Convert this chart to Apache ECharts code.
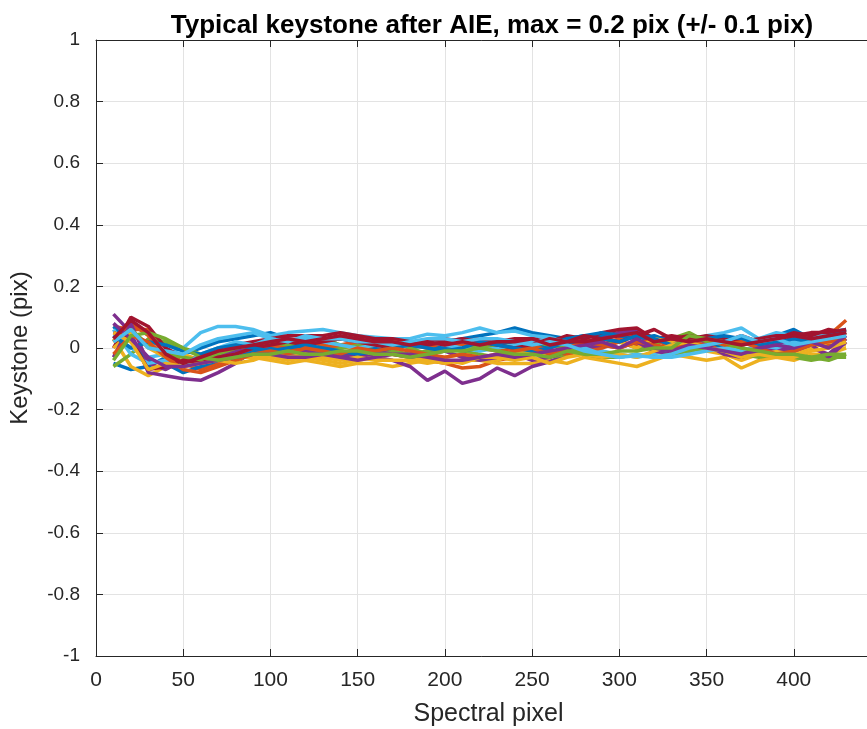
<!DOCTYPE html>
<html><head><meta charset="utf-8">
<script src="https://cdn.jsdelivr.net/npm/echarts@6/dist/echarts.min.js"></script>
<style>html,body{margin:0;padding:0;background:#fff}#c{width:867px;height:729px}</style>
</head><body><div id="c"></div>
<script>
var xs = [10,20,30,40,50,60,70,80,90,100,110,120,130,140,150,160,170,180,190,200,210,220,230,240,250,260,270,280,290,300,310,320,330,340,350,360,370,380,390,400,410,420,430];
var xTicks = [0,50,100,150,200,250,300,350,400,450];
var yTicks = [-1,-0.8,-0.6,-0.4,-0.2,0,0.2,0.4,0.6,0.8,1];
var colors = ['#0072BD','#D95319','#EDB120','#7E2F8E','#77AC30','#4DBEEE','#A2142F'];
var line1 = [-0.05,-0.07,-0.06,-0.03,-0.02,0.0,0.02,0.03,0.04,0.05, 0.03,0.02,0.02,0.03,0.02,0.01,0.02,0.0,0.01,0.02, 0.03,0.04,0.05,0.065,0.05,0.04,0.03,0.04,0.04,0.05, 0.05,0.03,0.02,0.03,0.02,0.03,0.01,0.02,0.04,0.06, 0.03,0.05,0.06];
var line2 = [0.07,0.06,0.06,0.0,-0.05,-0.07,-0.05,-0.03,-0.01,0.0, 0.01,0.02,0.01,0.0,0.01,-0.01,-0.02,-0.03,-0.04,-0.05, -0.065,-0.06,-0.04,-0.03,-0.02,0.0,0.02,0.03,0.01,0.03, 0.04,0.02,0.03,0.01,0.0,0.02,0.0,-0.01,0.0,0.01, 0.03,0.04,0.09];
var line3 = [0.03,-0.06,-0.09,-0.06,-0.04,-0.03,-0.02,-0.03,-0.03,-0.04, -0.05,-0.04,-0.05,-0.06,-0.05,-0.05,-0.06,-0.05,-0.04,-0.05, -0.04,-0.04,-0.05,-0.05,-0.05,-0.04,-0.05,-0.03,-0.04,-0.05, -0.06,-0.04,-0.02,-0.03,-0.04,-0.03,-0.065,-0.04,-0.03,-0.04, -0.02,-0.02,0.0];
var line4 = [0.11,0.05,-0.08,-0.09,-0.1,-0.105,-0.08,-0.05,-0.01,-0.015, -0.02,-0.02,-0.03,-0.02,-0.02,-0.03,-0.04,-0.06,-0.105,-0.075, -0.115,-0.1,-0.065,-0.09,-0.06,-0.045,-0.02,0.0,0.03,0.05, 0.06,-0.015,0.02,-0.015,0.02,0.0,-0.02,-0.01,0.01,0.02, 0.0,-0.02,0.03];
var line5 = [-0.06,-0.02,0.03,0.02,0.0,-0.02,-0.03,-0.01,-0.02,-0.01, 0.0,0.01,-0.01,0.0,0.01,0.0,-0.01,-0.02,-0.01,0.0, -0.01,-0.02,-0.03,-0.02,-0.01,-0.03,-0.02,0.0,0.01,0.02, 0.0,0.01,0.03,0.05,0.02,0.01,0.0,-0.02,-0.01,-0.03, -0.04,-0.03,-0.03];
var line6 = [0.04,0.0,-0.03,-0.02,0.0,0.05,0.07,0.07,0.06,0.04, 0.05,0.055,0.06,0.05,0.04,0.035,0.03,0.03,0.045,0.04, 0.05,0.065,0.05,0.055,0.04,0.035,0.02,0.01,-0.01,-0.02, -0.03,-0.02,0.0,0.02,0.04,0.05,0.065,0.03,0.05,0.04, 0.03,0.05,0.06];
var line7 = [0.0,0.1,0.07,0.0,-0.03,-0.04,-0.02,0.01,0.02,0.03, 0.04,0.04,0.04,0.05,0.04,0.03,0.03,0.02,0.02,0.03, 0.02,0.03,0.02,0.03,0.03,0.02,0.04,0.03,0.05,0.06, 0.065,0.03,0.04,0.03,0.04,0.03,0.02,0.03,0.04,0.04, 0.05,0.05,0.06];
var line8 = [0.07,0.02,-0.04,-0.05,-0.08,-0.06,-0.04,-0.02,-0.01,0.0, 0.01,0.0,-0.01,-0.02,-0.01,0.0,0.01,0.02,0.01,0.0, -0.01,0.0,0.01,0.02,0.0,0.01,0.03,0.04,0.05,0.04, 0.03,0.04,0.02,0.0,0.01,0.0,-0.02,0.0,0.01,0.0, 0.02,0.03,0.04];
var line9 = [0.02,0.08,0.04,-0.02,-0.06,-0.05,-0.03,-0.02,0.0,0.01, 0.0,-0.01,0.0,0.01,0.02,0.01,0.02,0.01,0.0,0.02, 0.01,0.0,-0.01,0.0,0.01,-0.01,-0.02,-0.01,0.0,0.02, 0.01,0.03,0.0,0.02,0.01,-0.01,-0.03,-0.02,-0.01,0.0, 0.02,0.01,0.05];
var line10 = [0.0,0.05,0.0,-0.03,-0.02,-0.04,-0.03,-0.04,-0.02,-0.03, -0.04,-0.03,-0.04,-0.05,-0.04,-0.03,-0.02,-0.03,-0.04,-0.03, -0.02,-0.03,-0.04,-0.02,-0.01,-0.02,0.01,0.0,0.03,0.02, 0.0,0.03,0.02,0.0,-0.01,-0.02,-0.04,-0.02,-0.01,-0.02, 0.0,0.02,0.01];
var line11 = [-0.03,0.08,-0.05,-0.07,-0.04,-0.03,-0.02,-0.01,0.0,-0.01, -0.02,-0.01,-0.02,-0.03,-0.02,-0.01,-0.02,-0.03,-0.02,-0.01, -0.03,-0.04,-0.03,-0.02,-0.04,-0.03,-0.01,0.0,0.01,0.0, 0.02,-0.01,-0.02,0.0,0.01,-0.02,-0.03,-0.01,0.0,-0.01, 0.01,-0.03,0.02];
var line12 = [0.02,0.06,0.01,-0.02,-0.03,-0.04,-0.02,0.0,0.01,0.02, 0.01,0.02,0.03,0.01,0.0,0.01,0.02,0.0,-0.02,-0.01, 0.0,0.01,0.0,0.01,0.02,0.01,0.0,-0.02,-0.03,-0.03, -0.02,-0.03,-0.02,-0.01,0.0,-0.01,-0.02,-0.03,-0.02,-0.02, -0.03,-0.02,-0.02];
var line13 = [0.06,-0.02,-0.05,-0.04,-0.06,-0.02,0.0,0.02,0.01,0.03, 0.02,0.03,0.02,0.01,0.0,0.01,0.0,0.01,0.02,0.01, 0.0,-0.01,0.0,0.01,0.02,0.03,0.02,0.0,-0.02,-0.03, -0.02,-0.03,-0.03,-0.02,-0.01,0.0,-0.01,0.01,0.0,0.02, 0.01,0.03,0.04];
var line14 = [0.05,0.03,-0.07,-0.06,-0.04,-0.05,-0.03,-0.02,0.0,0.01, 0.02,0.01,0.02,0.03,0.02,0.01,0.0,0.02,0.01,0.02, 0.03,0.02,0.01,0.0,0.01,0.03,0.02,0.04,0.03,0.02, 0.04,0.06,0.03,0.04,0.03,0.02,0.04,0.02,0.03,0.05, 0.04,0.06,0.05];
var line15 = [0.04,0.0,0.02,0.01,-0.01,-0.02,0.0,0.01,0.0,-0.01, 0.0,0.01,0.0,-0.01,-0.02,-0.01,0.0,0.01,0.0,-0.01, 0.0,0.02,0.01,0.0,-0.01,0.0,0.02,0.01,0.03,0.02, 0.04,0.03,0.01,0.02,0.03,0.04,0.03,0.01,0.02,0.03, 0.02,0.04,0.05];
var line16 = [-0.02,0.04,0.02,-0.03,-0.07,-0.08,-0.06,-0.04,-0.02,-0.01, -0.02,0.0,-0.01,-0.02,0.0,-0.01,0.0,-0.01,-0.02,-0.03, -0.02,-0.03,-0.02,-0.01,0.0,-0.02,0.0,0.02,0.01,0.0, 0.02,0.01,0.0,0.02,0.03,0.01,0.02,0.0,-0.02,-0.01, 0.01,0.02,0.03];
var line17 = [0.05,0.02,-0.07,-0.05,-0.06,-0.05,-0.04,-0.05,-0.04,-0.02, -0.03,-0.02,-0.03,-0.04,-0.03,-0.04,-0.04,-0.04,-0.05,-0.04, -0.05,-0.03,-0.03,-0.04,-0.03,-0.05,-0.03,-0.02,-0.03,-0.02, -0.03,-0.01,0.01,0.02,0.0,-0.01,-0.03,-0.02,-0.03,-0.03, -0.01,0.0,0.02];
var line18 = [0.08,0.03,-0.03,-0.06,-0.06,-0.05,-0.04,-0.03,-0.02,-0.02, -0.03,-0.03,-0.02,-0.03,-0.04,-0.03,-0.02,-0.02,-0.03,-0.04, -0.04,-0.03,-0.02,-0.03,-0.02,-0.01,0.0,0.01,0.02,0.0, 0.03,0.0,-0.01,0.01,0.0,-0.01,-0.02,0.0,0.01,0.0, 0.02,0.0,0.04];
var line19 = [-0.04,0.04,0.05,0.03,0.0,-0.03,-0.04,-0.03,-0.02,-0.02, -0.01,-0.02,-0.02,-0.01,-0.01,-0.02,-0.02,-0.03,-0.02,-0.01, -0.01,0.0,-0.01,-0.02,-0.02,-0.03,-0.01,-0.02,-0.02,-0.01, -0.01,0.0,0.0,0.04,0.03,0.02,0.0,-0.01,-0.02,-0.02, -0.03,-0.04,-0.02];
var line20 = [0.02,0.06,0.0,-0.01,-0.02,0.01,0.03,0.04,0.05,0.03, 0.02,0.04,0.03,0.03,0.02,0.02,0.01,0.02,0.03,0.03, 0.02,0.03,0.03,0.02,0.01,0.02,0.01,-0.01,-0.02,-0.03, -0.025,-0.03,-0.02,0.0,0.01,0.02,0.04,0.02,0.03,0.01, 0.02,0.03,0.04];
var line21 = [0.03,0.09,0.05,-0.02,-0.05,-0.03,-0.01,0.0,0.01,0.02, 0.03,0.02,0.03,0.04,0.03,0.02,0.02,0.01,0.02,0.01, 0.02,0.01,0.02,0.02,0.03,0.01,0.02,0.02,0.03,0.04, 0.05,0.02,0.03,0.02,0.03,0.02,0.01,0.02,0.03,0.04, 0.03,0.04,0.05];
var lines = [line1,line2,line3,line4,line5,line6,line7,line8,line9,line10,line11,line12,line13,line14,line15,line16,line17,line18,line19,line20,line21];

var FONT = "'Liberation Sans', Arial, Helvetica, sans-serif";
var chart = echarts.init(document.getElementById('c'), null, {renderer:'canvas'});
var series = lines.map(function(v, i){
  return {
    type:'line', xAxisIndex:0, yAxisIndex:0,
    data: xs.map(function(x, j){ return [x, v[j]]; }),
    showSymbol:false, symbol:'none', animation:false,
    lineStyle:{color:colors[i % colors.length], width:3.5},
    z: 3 + i
  };
});
chart.setOption({
  animation:false,
  backgroundColor:'#ffffff',
  title:{
    text:'Typical keystone after AIE, max = 0.2 pix (+/- 0.1 pix)',
    left: 487, textAlign:'center', top: 8,
    textStyle:{fontFamily:FONT, fontWeight:'bold', fontSize:26, color:'#000'}
  },
  grid:{left:96, right:-14, top:40, bottom:73, containLabel:false, outerBoundsMode:'none'},
  xAxis:[{
    type:'value', min:0, max:450, interval:50, position:'bottom',
    name:'Spectral pixel', nameLocation:'middle', nameGap:46,
    nameTextStyle:{fontFamily:FONT, fontSize:25, color:'#262626'},
    axisLine:{show:true, onZero:false, lineStyle:{color:'#262626', width:1}},
    axisTick:{show:true, inside:true, length:7, lineStyle:{color:'#262626'}},
    axisLabel:{fontFamily:FONT, fontSize:21, color:'#262626', margin:14, showMaxLabel:false,
      formatter:function(v){ return v >= 450 ? '' : String(v); }},
    splitLine:{show:true, lineStyle:{color:'#e3e3e3', width:1}}
  },{
    type:'value', min:0, max:450, interval:50, position:'top',
    axisLine:{show:true, onZero:false, lineStyle:{color:'#262626', width:1}},
    axisTick:{show:true, inside:true, length:7, lineStyle:{color:'#262626'}},
    axisLabel:{show:false}, splitLine:{show:false}
  }],
  yAxis:[{
    type:'value', min:-1, max:1, interval:0.2,
    name:'Keystone (pix)', nameLocation:'middle', nameGap:64, nameRotate:90,
    nameTextStyle:{fontFamily:FONT, fontSize:24, color:'#262626'},
    axisLine:{show:true, onZero:false, lineStyle:{color:'#262626', width:1}},
    axisTick:{show:true, inside:true, length:7, lineStyle:{color:'#262626'}},
    axisLabel:{fontFamily:FONT, fontSize:19, color:'#262626', margin:16,
      formatter:function(v){ var r = Math.round(v*10)/10; return r === 0 ? '0' : String(r); }},
    splitLine:{show:true, lineStyle:{color:'#e3e3e3', width:1}}
  }],
  series: series
});
</script></body></html>
